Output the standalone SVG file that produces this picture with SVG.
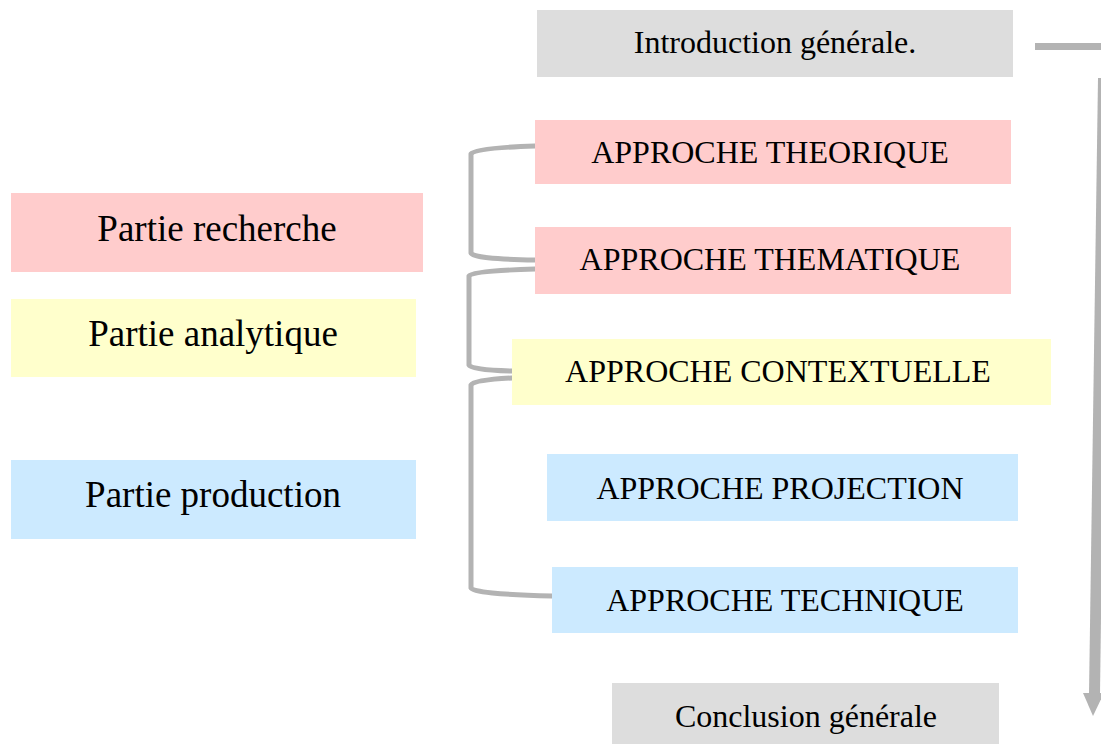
<svg xmlns="http://www.w3.org/2000/svg" width="1101" height="744" viewBox="0 0 1101 744">
<style>
text{font-family:"Liberation Serif","Times New Roman",serif;fill:#000;text-anchor:middle}
.r{font-size:32px}
.l{font-size:37px}
.pink{fill:#ffcccc}
.yel{fill:#ffffcc}
.blue{fill:#cceaff}
.gray{fill:#dddddd}
.br{fill:none;stroke:#b3b3b3;stroke-width:5;stroke-linecap:round;stroke-linejoin:round}
.ar{fill:#b3b3b3}
</style>
<rect width="1101" height="744" fill="#fff"/>
<g id="connectors">
<path class="br" d="M535,146 Q475,148 471,154 L471,253 Q473,259 535,260"/>
<path class="br" d="M535,269 Q472,271 469,276 L469,365 Q471,370 512,371"/>
<path class="br" d="M512,378 Q474,380 471,385 L471,588 Q473,594 552,596"/>
<rect class="ar" x="1035" y="43" width="70" height="7"/>
<polygon class="ar" points="1098,78 1108,78 1100,694 1089,694"/>
<polygon class="ar" points="1083,693 1104,693 1093,716"/>
</g>
<g id="intro"><rect class="gray" x="537" y="10" width="476" height="67"/><text class="r" x="775" y="53">Introduction générale.</text></g>
<g id="theorique"><rect class="pink" x="535" y="120" width="476" height="64"/><text class="r" x="770" y="163">APPROCHE THEORIQUE</text></g>
<g id="thematique"><rect class="pink" x="535" y="227" width="476" height="67"/><text class="r" x="770" y="270">APPROCHE THEMATIQUE</text></g>
<g id="contextuelle"><rect class="yel" x="512" y="339" width="539" height="66"/><text class="r" x="778" y="382">APPROCHE CONTEXTUELLE</text></g>
<g id="projection"><rect class="blue" x="547" y="454" width="471" height="67"/><text class="r" x="780" y="499">APPROCHE PROJECTION</text></g>
<g id="technique"><rect class="blue" x="552" y="567" width="466" height="66"/><text class="r" x="785" y="611">APPROCHE TECHNIQUE</text></g>
<g id="conclusion"><rect class="gray" x="612" y="683" width="387" height="61"/><text class="r" x="806" y="727">Conclusion générale</text></g>
<g id="recherche"><rect class="pink" x="11" y="193" width="412" height="79"/><text class="l" x="217" y="241">Partie recherche</text></g>
<g id="analytique"><rect class="yel" x="11" y="299" width="405" height="78"/><text class="l" x="213" y="346">Partie analytique</text></g>
<g id="production"><rect class="blue" x="11" y="460" width="405" height="79"/><text class="l" x="213" y="507">Partie production</text></g>
</svg>
